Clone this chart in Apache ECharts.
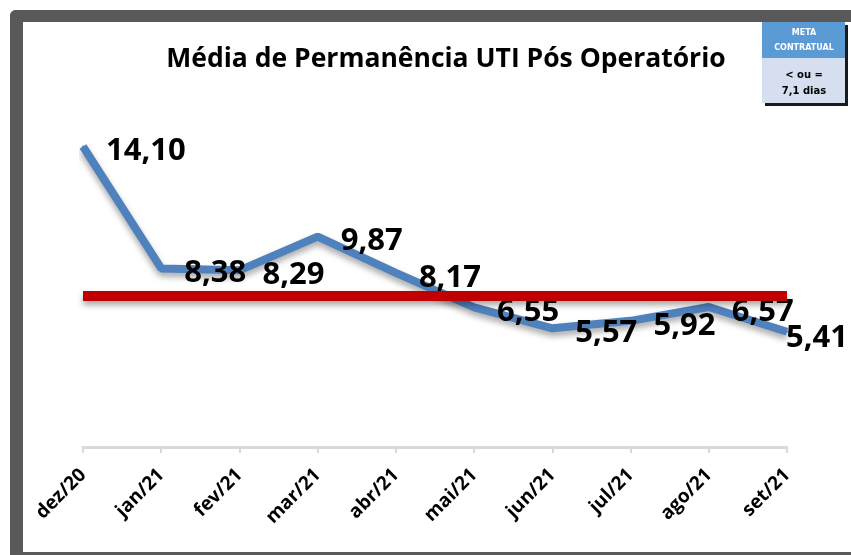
<!DOCTYPE html>
<html>
<head>
<meta charset="utf-8">
<script src="https://cdn.jsdelivr.net/npm/echarts@6/dist/echarts.min.js"></script>
<style>
  html, body { margin: 0; padding: 0; background: #fff; }
  #chart { width: 851px; height: 555px; }
</style>
</head>
<body>
<div id="chart"></div>
<script>
// dados
const meses = ['dez/20', 'jan/21', 'fev/21', 'mar/21', 'abr/21', 'mai/21', 'jun/21', 'jul/21', 'ago/21', 'set/21']
const mediaPermanencia = [14.10, 8.38, 8.29, 9.87, 8.17, 6.55, 5.57, 5.92, 6.57, 5.41]
const metaContratual = 7.1

const fmt = v => v.toFixed(2).replace('.', ',')

// last label sits on top of its point (plot edge)
const serieData = mediaPermanencia.map((v, i) => {
  if (i === mediaPermanencia.length - 1) {
    return { value: v, label: { distance: -2, offset: [0, 6] } }
  }
  return v
})

const chart = echarts.init(document.getElementById('chart'))

chart.setOption({
  animation: false,
  title: {
    text: 'Média de Permanência UTI Pós Operatório',
    left: 441,
    top: 41,
    textAlign: 'center',
    textStyle: {
      fontFamily: 'Open Sans',
      fontWeight: 'bold',
      fontSize: 26.5,
      color: '#000'
    }
  },
  grid: {
    left: 83,
    right: 64,
    top: 106,
    bottom: 108
  },
  xAxis: {
    type: 'category',
    data: meses,
    boundaryGap: false,
    axisLine: { lineStyle: { color: '#d9d9d9', width: 3 } },
    axisTick: { length: 6, lineStyle: { color: '#d9d9d9', width: 2 } },
    axisLabel: {
      rotate: 45,
      margin: 25,
      interval: 0,
      fontFamily: 'Open Sans',
      fontWeight: 'bold',
      fontSize: 19,
      color: '#000'
    }
  },
  yAxis: {
    type: 'value',
    min: 0,
    max: 16,
    show: false,
    splitLine: { show: false }
  },
  series: [{
    name: 'Média',
    type: 'line',
    data: serieData,
    symbol: 'circle',
    symbolSize: 2,
    showSymbol: true,
    itemStyle: { color: '#4F81BD' },
    lineStyle: {
      color: '#4F81BD',
      width: 8,
      shadowColor: 'rgba(0,0,0,0.35)',
      shadowBlur: 6,
      shadowOffsetY: 4
    },
    label: {
      show: true,
      position: 'right',
      distance: 22,
      offset: [0, 5],
      formatter: p => fmt(p.value),
      fontFamily: 'Open Sans',
      fontWeight: 'bold',
      fontSize: 31,
      color: '#000'
    },
    markLine: {
      silent: true,
      symbol: 'none',
      label: { show: false },
      lineStyle: {
        color: '#C00000',
        type: 'solid',
        width: 10,
        shadowColor: 'rgba(0,0,0,0.35)',
        shadowBlur: 6,
        shadowOffsetY: 4
      },
      data: [{ yAxis: metaContratual }]
    }
  }],
  graphic: [
    // moldura
    { type: 'rect', shape: { x: 10, y: 10, width: 841, height: 12, r: [6, 0, 0, 0] }, style: { fill: '#595959' } },
    { type: 'rect', shape: { x: 10, y: 10, width: 13, height: 545, r: [6, 0, 0, 0] }, style: { fill: '#595959' } },
    { type: 'rect', shape: { x: 10, y: 552, width: 841, height: 3 }, style: { fill: '#595959' } },
    // caixa meta
    { type: 'rect', shape: { x: 765, y: 25, width: 83, height: 81 }, style: { fill: '#1a1a1a' } },
    { type: 'rect', shape: { x: 762, y: 22, width: 83, height: 36 }, style: { fill: '#5B9BD5' } },
    { type: 'rect', shape: { x: 762, y: 58, width: 83, height: 45 }, style: { fill: '#D5DFEF' } },
    { type: 'text', x: 804, y: 33, style: { text: 'META', fill: '#fff', font: 'bold 8px "DejaVu Sans"', textAlign: 'center', textVerticalAlign: 'middle' } },
    { type: 'text', x: 804, y: 48, style: { text: 'CONTRATUAL', fill: '#fff', font: 'bold 8px "DejaVu Sans"', textAlign: 'center', textVerticalAlign: 'middle' } },
    { type: 'text', x: 804, y: 75, style: { text: '< ou =', fill: '#000', font: 'bold 10px "DejaVu Sans"', textAlign: 'center', textVerticalAlign: 'middle' } },
    { type: 'text', x: 804, y: 91, style: { text: '7,1 dias', fill: '#000', font: 'bold 10px "DejaVu Sans"', textAlign: 'center', textVerticalAlign: 'middle' } }
  ]
})
</script>
</body>
</html>
